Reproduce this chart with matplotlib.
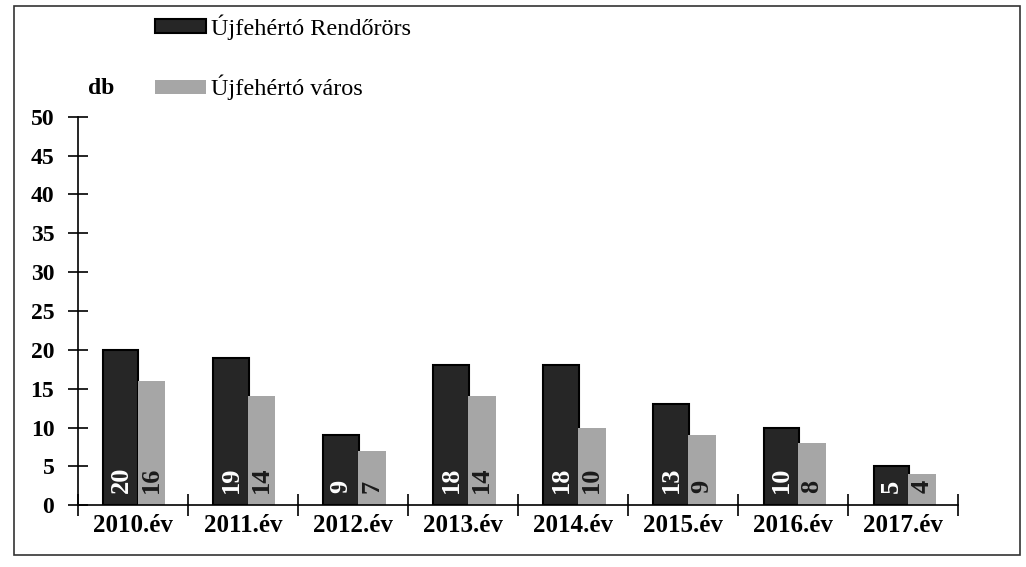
import matplotlib
matplotlib.use("Agg")
import matplotlib.pyplot as plt
import numpy as np
from matplotlib.patches import Rectangle

# incidents per year (db)
years = ["2010.év", "2011.év", "2012.év", "2013.év", "2014.év", "2015.év", "2016.év", "2017.év"]
rendororrs = [20, 19, 9, 18, 18, 13, 10, 5]
varos = [16, 14, 7, 14, 10, 9, 8, 4]
series_names = ["Újfehértó Rendőrörs", "Újfehértó város"]

plt.rcParams["font.family"] = ["Liberation Serif", "DejaVu Serif"]

fig = plt.figure(figsize=(10.26, 5.67), dpi=100)
ax = fig.add_axes([0.076, 0.109, 0.858, 0.685])

x = np.arange(len(years)) + 0.5
b1 = ax.bar(x - 0.11, rendororrs, width=0.32, color="#262626", edgecolor="black",
            linewidth=1.5, label=series_names[0])
b2 = ax.bar(x + 0.17, varos, width=0.25, color="#a6a6a6", edgecolor="#a6a6a6",
            linewidth=0, label=series_names[1])

# value labels standing upright at the foot of each bar
for xi, v in zip(x - 0.11, rendororrs):
    ax.text(xi, 1.6, str(v), rotation=90, ha="center", va="bottom", color="white",
            fontsize=19, fontweight="bold")
for xi, v in zip(x + 0.17, varos):
    ax.text(xi, 1.6, str(v), rotation=90, ha="center", va="bottom", color="#1a1a1a",
            fontsize=19, fontweight="bold")

ax.set_xlim(0, len(years))
ax.set_ylim(0, 50)
ax.set_yticks(range(0, 51, 5))
ax.set_xticks(np.arange(len(years) + 1))
ax.set_xticklabels([])
ax.set_xticks(x, minor=True)
ax.set_xticklabels(years, minor=True)
ax.tick_params(axis="x", which="minor", length=0, labelsize=18, pad=6)
ax.tick_params(axis="x", which="major", direction="inout", length=16, width=1.2)
ax.tick_params(axis="y", direction="inout", length=14, width=1.2, labelsize=17, pad=10)
for lab in ax.get_xticklabels(minor=True) + ax.get_yticklabels():
    lab.set_fontweight("bold")

for s in ["top", "right"]:
    ax.spines[s].set_visible(False)
ax.spines["left"].set_linewidth(1.2)
ax.spines["bottom"].set_linewidth(1.2)

fig.text(0.086, 0.835, "db", fontsize=17, fontweight="bold")

fig.legend(handles=[b1, b2], loc="upper left", bbox_to_anchor=(0.151, 0.975),
           frameon=False, fontsize=17.5, handlelength=2.1, handleheight=0.5,
           handletextpad=0.2, labelspacing=1.45, borderpad=0, borderaxespad=0)

# outer frame
fig.patches.append(Rectangle((0.014, 0.022), 0.98, 0.968, transform=fig.transFigure,
                             fill=False, edgecolor="#333333", linewidth=1.2))

fig.savefig("out.png", dpi=100)
